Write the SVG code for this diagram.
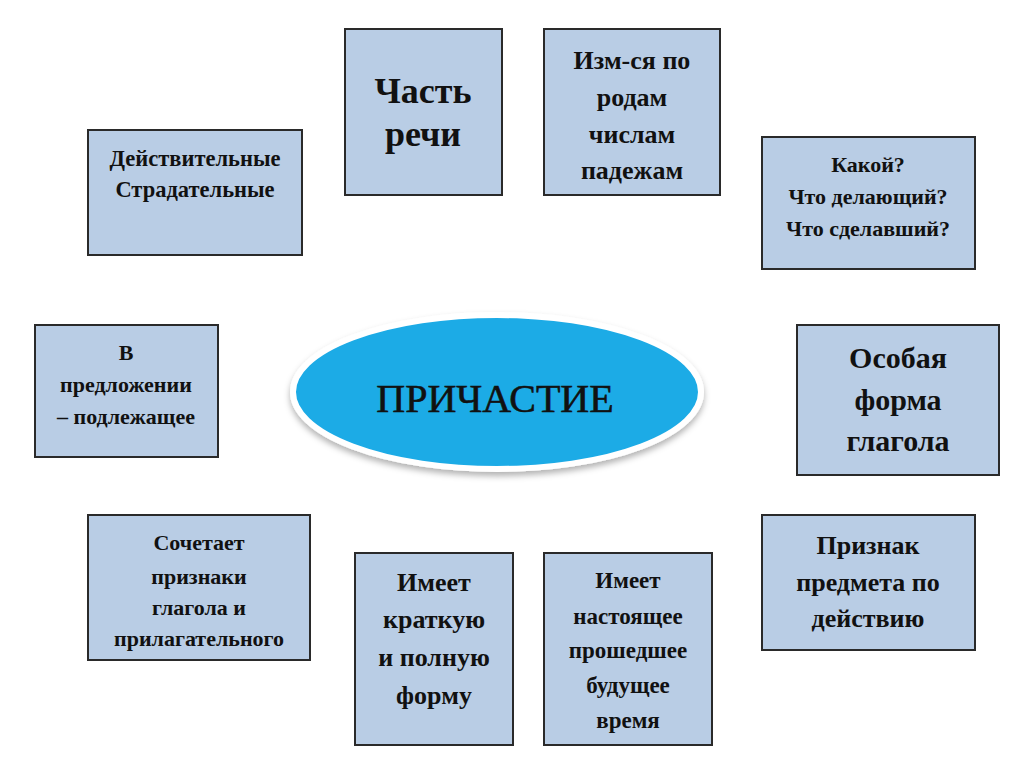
<svg xmlns="http://www.w3.org/2000/svg" width="1024" height="767" viewBox="0 0 1024 767">
  <defs>
    <style>
      .box { fill: #b9cde5; stroke: #2a2a2a; stroke-width: 2; }
      .t { font-family: "Liberation Serif", "Times New Roman", serif; font-weight: bold; fill: #111; text-anchor: middle; }
    </style>
    <filter id="sh" x="-10%" y="-20%" width="120%" height="150%">
      <feDropShadow dx="0" dy="4" stdDeviation="3" flood-color="#000" flood-opacity="0.3"/>
    </filter>
  </defs>
  <rect width="1024" height="767" fill="#ffffff"/>
  <g id="connectors"></g>

  <g id="center">
    <ellipse cx="497" cy="392" rx="204" ry="77" fill="#1eabe6" stroke="#ffffff" stroke-width="6" filter="url(#sh)"/>
    <text x="495" y="412" font-family="Liberation Serif, serif" font-size="40" fill="#111" stroke="#111" stroke-width="0.6" text-anchor="middle">ПРИЧАСТИЕ</text>
  </g>

  <g id="n-chast">
    <rect class="box" x="345" y="29" width="157" height="166"/>
    <text class="t" font-size="36"><tspan x="423" y="103">Часть</tspan><tspan x="423" y="146">речи</tspan></text>
  </g>

  <g id="n-izm">
    <rect class="box" x="544" y="29" width="176" height="166"/>
    <text class="t" font-size="26"><tspan x="632" y="69">Изм-ся по</tspan><tspan x="632" y="106">родам</tspan><tspan x="632" y="143">числам</tspan><tspan x="632" y="179">падежам</tspan></text>
  </g>

  <g id="n-kakoy">
    <rect class="box" x="762" y="137" width="213" height="132"/>
    <text class="t" font-size="22"><tspan x="868" y="172">Какой?</tspan><tspan x="868" y="204">Что делающий?</tspan><tspan x="868" y="236">Что сделавший?</tspan></text>
  </g>

  <g id="n-deyst">
    <rect class="box" x="88" y="130" width="214" height="125"/>
    <text class="t" font-size="22.5"><tspan x="195" y="166">Действительные</tspan><tspan x="195" y="197">Страдательные</tspan></text>
  </g>

  <g id="n-predl">
    <rect class="box" x="35" y="325" width="183" height="132"/>
    <text class="t" font-size="22"><tspan x="126" y="360">В</tspan><tspan x="126" y="392">предложении</tspan><tspan x="126" y="424">– подлежащее</tspan></text>
  </g>

  <g id="n-osobaya">
    <rect class="box" x="797" y="325" width="202" height="150"/>
    <text class="t" font-size="30"><tspan x="898" y="368">Особая</tspan><tspan x="898" y="410">форма</tspan><tspan x="898" y="451">глагола</tspan></text>
  </g>

  <g id="n-sochet">
    <rect class="box" x="88" y="515" width="222" height="145"/>
    <text class="t" font-size="22"><tspan x="199" y="550">Сочетает</tspan><tspan x="199" y="584">признаки</tspan><tspan x="199" y="615">глагола и</tspan><tspan x="199" y="646">прилагательного</tspan></text>
  </g>

  <g id="n-kratk">
    <rect class="box" x="355" y="553" width="158" height="192"/>
    <text class="t" font-size="26"><tspan x="434" y="591">Имеет</tspan><tspan x="434" y="628">краткую</tspan><tspan x="434" y="666">и полную</tspan><tspan x="434" y="704">форму</tspan></text>
  </g>

  <g id="n-vremya">
    <rect class="box" x="544" y="553" width="168" height="192"/>
    <text class="t" font-size="23"><tspan x="628" y="588">Имеет</tspan><tspan x="628" y="624">настоящее</tspan><tspan x="628" y="658">прошедшее</tspan><tspan x="628" y="693">будущее</tspan><tspan x="628" y="728">время</tspan></text>
  </g>

  <g id="n-priznak">
    <rect class="box" x="762" y="515" width="213" height="135"/>
    <text class="t" font-size="26"><tspan x="868" y="554">Признак</tspan><tspan x="868" y="591">предмета по</tspan><tspan x="868" y="627">действию</tspan></text>
  </g>
</svg>
